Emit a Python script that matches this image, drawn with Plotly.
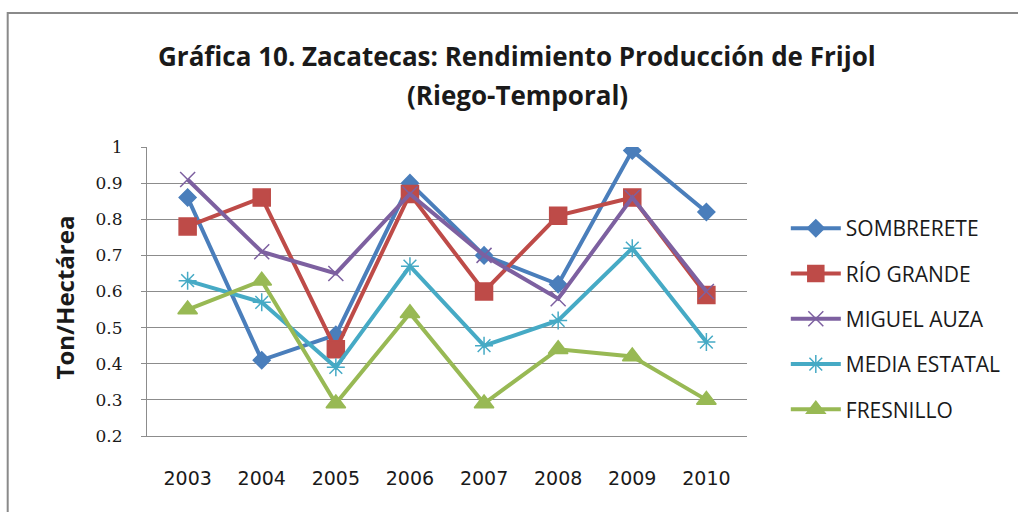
import plotly.graph_objects as go

years = ["2003", "2004", "2005", "2006", "2007", "2008", "2009", "2010"]

sombrerete = [0.86, 0.41, 0.48, 0.90, 0.70, 0.62, 0.99, 0.82]
rio_grande = [0.78, 0.86, 0.44, 0.87, 0.60, 0.81, 0.86, 0.59]
miguel_auza = [0.91, 0.71, 0.65, 0.87, 0.70, 0.58, 0.86, 0.60]
media_estatal = [0.63, 0.57, 0.39, 0.67, 0.45, 0.52, 0.72, 0.46]
fresnillo = [0.55, 0.63, 0.29, 0.54, 0.29, 0.44, 0.42, 0.30]

title_lines = ["Gráfica 10. Zacatecas: Rendimiento Producción de Frijol", "(Riego-Temporal)"]

series = [
    ("SOMBRERETE", sombrerete, "#4A7EBB", "diamond", 13),
    ("RÍO GRANDE", rio_grande, "#BE4B48", "square", 17),
    ("MIGUEL AUZA", miguel_auza, "#7D60A0", "x-thin-open", 15),
    ("MEDIA ESTATAL", media_estatal, "#46AAC5", "asterisk-open", 15),
    ("FRESNILLO", fresnillo, "#98B954", "triangle-up", 17),
]

SANS = "Open Sans"
TEXT = "#1a1a1a"

# plot area in pixels: x 147..750, y 147..436
def px_x(p):
    return (p - 147) / 603

def px_y(p):
    return (436 - p) / 289

fig = go.Figure()
for name, vals, color, symbol, size in series:
    fig.add_trace(go.Scatter(
        x=years, y=vals, name=name, mode="lines+markers",
        legendgroup=name,
        line=dict(color=color, width=4),
        marker=dict(symbol=symbol, size=size, color=color,
                    line=dict(color=color, width=1.5)),
    ))

annotations = [dict(
    text="<b>Ton/Hectárea</b>", textangle=-90,
    xref="paper", yref="paper", x=px_x(64), y=px_y(297),
    xanchor="center", yanchor="middle", showarrow=False,
    font=dict(size=24, family=SANS, color=TEXT),
)]
for line, ypos in zip(title_lines, [56, 95]):
    annotations.append(dict(
        text="<b>" + line + "</b>", xref="paper", yref="paper",
        x=px_x(519), y=px_y(ypos), xanchor="center", yanchor="middle",
        showarrow=False, font=dict(size=26, family=SANS, color=TEXT),
    ))

fig.update_layout(
    width=1018, height=512,
    margin=dict(l=147, r=268, t=147, b=76),
    paper_bgcolor="white", plot_bgcolor="white",
    font=dict(family=SANS, color=TEXT),
    showlegend=True,
    legend=dict(
        x=px_x(789), xanchor="left", y=px_y(208), yanchor="top",
        font=dict(size=21, family=SANS, color=TEXT),
        tracegroupgap=15, itemwidth=50, bgcolor="rgba(0,0,0,0)",
    ),
    xaxis=dict(
        type="category", showgrid=False, showline=True,
        linecolor="#8c8c8c", linewidth=1,
        tickfont=dict(size=19, family="DejaVu Sans", color=TEXT),
        ticklabelstandoff=25, zeroline=False,
    ),
    yaxis=dict(
        range=[0.2, 1.0], dtick=0.1, tick0=0.2,
        showgrid=True, gridcolor="#8c8c8c", gridwidth=1,
        showline=True, linecolor="#8c8c8c", linewidth=1,
        ticks="outside", ticklen=5, tickcolor="#8c8c8c",
        tickfont=dict(size=17, family="DejaVu Serif", color=TEXT),
        ticklabelstandoff=15, zeroline=False,
    ),
    annotations=annotations,
    shapes=[dict(
        type="rect", xref="paper", yref="paper",
        x0=px_x(7), x1=px_x(1030), y0=px_y(530), y1=px_y(13),
        line=dict(color="#8a8a8a", width=2), layer="below",
    )],
)

# the page's default body margin would shift the whole chart by 8px
fig.write_html("out.html", config={"displayModeBar": False},
               post_script="document.body.style.margin='0';")
